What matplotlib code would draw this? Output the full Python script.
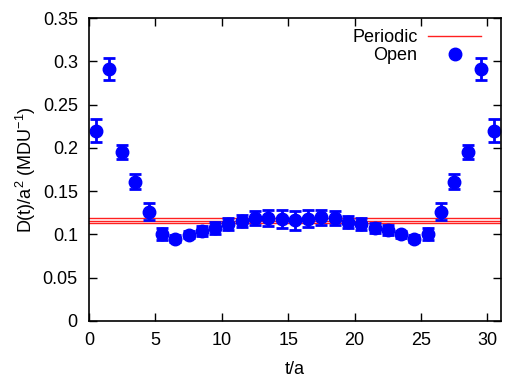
import matplotlib
matplotlib.use('Agg')
import matplotlib.pyplot as plt
import numpy as np

# Data
t_open = np.arange(31) + 0.5
d_open = [0.220, 0.291, 0.195, 0.161, 0.126, 0.100, 0.095, 0.0995, 0.104, 0.107,
          0.1115, 0.115, 0.119, 0.119, 0.1177, 0.116, 0.118, 0.1197, 0.119, 0.114,
          0.1115, 0.1075, 0.105, 0.100, 0.095, 0.100, 0.126, 0.161, 0.195, 0.291,
          0.220]
d_open_err = [0.013, 0.013, 0.008, 0.009, 0.010, 0.007, 0.004, 0.004, 0.006, 0.007,
              0.007, 0.007, 0.008, 0.009, 0.010, 0.011, 0.010, 0.009, 0.008, 0.007,
              0.007, 0.006, 0.006, 0.004, 0.004, 0.007, 0.010, 0.009, 0.008, 0.013,
              0.013]

d_periodic = 0.1158
d_periodic_err = 0.0031

plt.rcParams['font.family'] = ['Liberation Sans', 'DejaVu Sans']
plt.rcParams['mathtext.default'] = 'regular'
plt.rcParams['font.size'] = 13

fig = plt.figure(figsize=(5.26, 3.77), dpi=100)
ax = fig.add_axes([0.169, 0.149, 0.783, 0.803])

# Periodic: central value with error band lines
ax.axhline(d_periodic, color='#ff2020', lw=1.0, label='Periodic')
ax.axhline(d_periodic + d_periodic_err, color='#ff2020', lw=1.0)
ax.axhline(d_periodic - d_periodic_err, color='#ff2020', lw=1.0)

# Open boundary data
ax.errorbar(t_open, d_open, yerr=d_open_err, fmt='o', color='#0000ff',
            markersize=9, elinewidth=2, capsize=4.5, capthick=2)
ax.plot([], [], 'o', color='#0000ff', markersize=9, label='Open')

ax.set_xlim(0, 31)
ax.set_ylim(0, 0.35)
ax.set_xticks([0, 5, 10, 15, 20, 25, 30])
ax.set_yticks(np.arange(0, 0.351, 0.05))
ax.set_yticklabels(['0', '0.05', '0.1', '0.15', '0.2', '0.25', '0.3', '0.35'])
ax.tick_params(direction='in', top=True, right=True, length=6, width=1)
ax.tick_params(axis='x', pad=8)
ax.tick_params(axis='y', pad=8)
for s in ax.spines.values():
    s.set_linewidth(1.2)

ax.set_xlabel('t/a', labelpad=9)
ax.set_ylabel('D(t)/a$^2$ (MDU$^{-1}$)', labelpad=3)

ax.legend(loc='upper right', frameon=False, markerfirst=False, handlelength=2.9,
          borderaxespad=0, labelspacing=0.05, handletextpad=0.6,
          bbox_to_anchor=(0.969, 0.987))

fig.savefig('out.png', dpi=100)
